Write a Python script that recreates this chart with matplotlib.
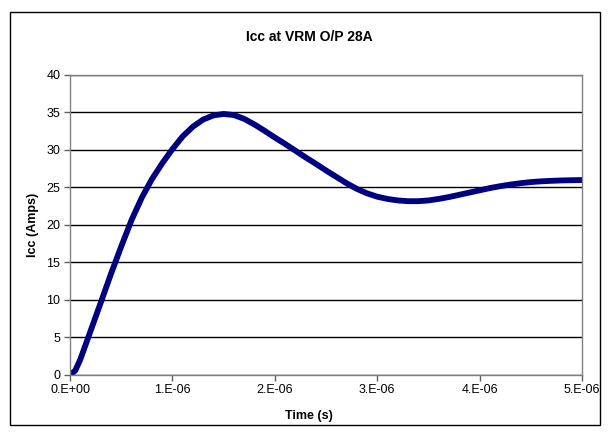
import matplotlib.pyplot as plt
from matplotlib.patches import Rectangle

plt.rcParams['font.family'] = ['Liberation Sans', 'DejaVu Sans']

# Tempo em microssegundos e corrente
tempo_us = [0.0, 0.05, 0.1, 0.15, 0.2, 0.3, 0.4, 0.5, 0.6, 0.7, 0.8, 0.9,
            1.0, 1.1, 1.2, 1.3, 1.4, 1.5, 1.6, 1.7, 1.8, 1.9,
            2.0, 2.1, 2.2, 2.3, 2.4, 2.5, 2.6, 2.7, 2.8, 2.9,
            3.0, 3.1, 3.2, 3.3, 3.4, 3.5, 3.6, 3.7, 3.8, 3.9,
            4.0, 4.1, 4.2, 4.3, 4.4, 4.5, 4.6, 4.7, 4.8, 4.9, 5.0]
icc = [0.0, 0.5, 2.0, 3.9, 5.8, 9.6, 13.45, 17.1, 20.6, 23.6, 26.1, 28.2,
       30.1, 31.8, 33.1, 34.05, 34.6, 34.8, 34.65, 34.15, 33.4, 32.55,
       31.65, 30.8, 29.9, 29.0, 28.15, 27.25, 26.4, 25.55, 24.8, 24.2,
       23.75, 23.45, 23.25, 23.15, 23.15, 23.25, 23.45, 23.7, 24.0, 24.3,
       24.6, 24.9, 25.15, 25.37, 25.55, 25.7, 25.8, 25.87, 25.92, 25.95, 25.97]

x_ticks = [0, 1e-6, 2e-6, 3e-6, 4e-6, 5e-6]
x_labels = ["0.E+00", "1.E-06", "2.E-06", "3.E-06", "4.E-06", "5.E-06"]
y_ticks = [0, 5, 10, 15, 20, 25, 30, 35, 40]

tempo = [t * 1e-6 for t in tempo_us]

fig = plt.figure(figsize=(6.1, 4.32), dpi=100)
ax = fig.add_axes([0.1148, 0.1330, 0.8393, 0.6934])

# Borda externa do grafico
fig.patches.append(Rectangle((10 / 610, 1 - 425 / 432), 590 / 610, 413 / 432,
                             transform=fig.transFigure, fill=False,
                             edgecolor="black", linewidth=1))

ax.plot(tempo, icc, color="#000080", linewidth=4.2,
        solid_capstyle="round", solid_joinstyle="round")

ax.set_xlim(0, 5e-6)
ax.set_ylim(0, 40)
ax.set_xticks(x_ticks)
ax.set_xticklabels(x_labels)
ax.set_yticks(y_ticks)

ax.yaxis.grid(True, color="black", linewidth=1)
ax.set_axisbelow(True)
for s in ax.spines.values():
    s.set_color("#808080")
    s.set_linewidth(1)
ax.tick_params(direction="out", length=4, width=1, color="#606060",
               labelsize=9, pad=3)

fig.text(0.507, 0.914, "Icc at VRM O/P 28A", ha="center", va="center",
         fontsize=10, fontweight="bold")
fig.text(0.507, 0.037, "Time (s)", ha="center", va="center",
         fontsize=9, fontweight="bold")
fig.text(0.054, 0.48, "Icc (Amps)", ha="center", va="center",
         fontsize=9, fontweight="bold", rotation=90)

fig.savefig("out.png", dpi=100)
